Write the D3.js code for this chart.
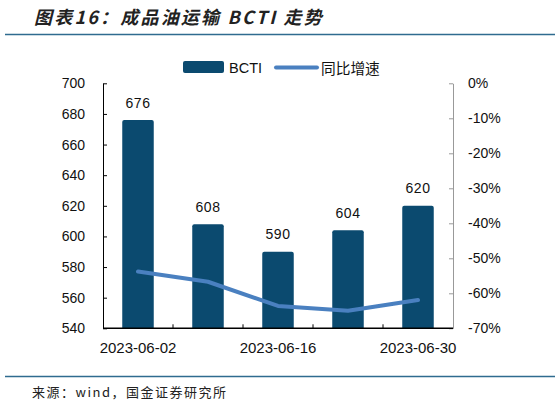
<!DOCTYPE html>
<html lang="zh">
<head>
<meta charset="UTF-8">
<title>成品油运输BCTI走势</title>
<script src="https://cdnjs.cloudflare.com/ajax/libs/d3/7.8.4/d3.min.js"></script>
<style>
  body { margin: 0; background: #fff; overflow: hidden; }
  svg { display: block; font-family: Arial, "Liberation Sans", sans-serif; }
</style>
</head>
<body>
<svg width="559" height="406"></svg>
<script>
const dates = ["2023-06-02", "2023-06-09", "2023-06-16", "2023-06-23", "2023-06-30"];
const bcti = [676, 608, 590, 604, 620];
const yoy = [-0.538, -0.567, -0.636, -0.650, -0.619];
const leftTicks = [540, 560, 580, 600, 620, 640, 660, 680, 700];
const rightTicks = [0, -0.1, -0.2, -0.3, -0.4, -0.5, -0.6, -0.7];
const shownDates = ["2023-06-02", "2023-06-16", "2023-06-30"];

const svg = d3.select("svg");
const plot = { left: 103, right: 453, top: 83.3, bottom: 328.3 };

const x = d3.scaleBand().domain(dates).range([plot.left, plot.right]).paddingInner(0.55).paddingOuter(0.275);
const y = d3.scaleLinear().domain([540, 700]).range([plot.bottom, plot.top]);
const y2 = d3.scaleLinear().domain([-0.7, 0]).range([plot.bottom, plot.top]);

// title
svg.append("text")
  .attr("x", 34).attr("y", 24)
  .attr("font-family", "'Noto Sans CJK SC', sans-serif")
  .attr("font-size", 18).attr("font-weight", "bold").attr("font-style", "italic")
  .attr("letter-spacing", 2.2)
  .attr("fill", "#222")
  .text("图表16：成品油运输 BCTI 走势");
svg.append("line").attr("x1", 5).attr("x2", 555).attr("y1", 34.5).attr("y2", 34.5)
  .attr("stroke", "#2f6b8f").attr("stroke-width", 1.5);

// bottom rule + source
svg.append("line").attr("x1", 5).attr("x2", 555).attr("y1", 376.5).attr("y2", 376.5)
  .attr("stroke", "#2f6b8f").attr("stroke-width", 1.5);
svg.append("text")
  .attr("x", 32).attr("y", 397)
  .attr("font-family", "'Noto Sans CJK SC', sans-serif")
  .attr("font-size", 13).attr("letter-spacing", 1.5).attr("fill", "#222")
  .text("来源：wind，国金证券研究所");

// legend
const lg = svg.append("g");
lg.append("rect").attr("x", 183).attr("y", 61).attr("width", 41).attr("height", 12).attr("rx", 2)
  .attr("fill", "#0b4a6f");
lg.append("text").attr("x", 229).attr("y", 73).attr("font-size", 14.5).attr("fill", "#111").text("BCTI");
lg.append("line").attr("x1", 276).attr("x2", 317).attr("y1", 67.5).attr("y2", 67.5)
  .attr("stroke", "#4a80c0").attr("stroke-width", 4).attr("stroke-linecap", "round");
lg.append("text").attr("x", 321).attr("y", 73.5).attr("font-size", 14.7).attr("fill", "#111")
  .attr("font-family", "'Noto Sans CJK SC', sans-serif").text("同比增速");

// bars
const barPath = d => {
  const x0 = x(d.date), w = x.bandwidth(), y0 = y(d.v), r = 2;
  return `M${x0},${plot.bottom}V${y0 + r}Q${x0},${y0} ${x0 + r},${y0}H${x0 + w - r}Q${x0 + w},${y0} ${x0 + w},${y0 + r}V${plot.bottom}Z`;
};
const rows = dates.map((d, i) => ({ date: d, v: bcti[i], p: yoy[i] }));
svg.append("g").selectAll("path").data(rows).join("path")
  .attr("d", barPath).attr("fill", "#0b4a6f");

svg.append("g").selectAll("text").data(rows).join("text")
  .attr("x", d => x(d.date) + x.bandwidth() / 2)
  .attr("y", d => y(d.v) - 12.5)
  .attr("text-anchor", "middle").attr("font-size", 14).attr("letter-spacing", 0.6).attr("fill", "#111")
  .text(d => d.v);

// line
const line = d3.line()
  .x(d => x(d.date) + x.bandwidth() / 2)
  .y(d => y2(d.p));
svg.append("path").datum(rows).attr("d", line)
  .attr("fill", "none").attr("stroke", "#4a80c0").attr("stroke-width", 4)
  .attr("stroke-linecap", "round").attr("stroke-linejoin", "round");

// left axis
const la = svg.append("g").attr("transform", `translate(${plot.left},0)`)
  .call(d3.axisLeft(y).tickValues(leftTicks).tickSizeInner(-4).tickSizeOuter(0).tickPadding(18));
la.select(".domain").attr("stroke", "#000");
la.selectAll(".tick line").attr("stroke", "#000");
la.selectAll("text").attr("font-size", 14).attr("fill", "#111").attr("font-family", "Arial, 'Liberation Sans', sans-serif");

// right axis
const ra = svg.append("g").attr("transform", `translate(${plot.right},0)`)
  .call(d3.axisRight(y2).tickValues(rightTicks).tickFormat(d3.format(".0%")).tickSizeInner(-4).tickSizeOuter(0).tickPadding(15));
ra.select(".domain").attr("stroke", "#999");
ra.selectAll(".tick line").attr("stroke", "#999");
ra.selectAll("text").attr("font-size", 14).attr("fill", "#111").attr("font-family", "Arial, 'Liberation Sans', sans-serif")
  .text(d => d3.format(".0%")(d).replace("−", "-"));

// bottom axis
const boundaries = dates.slice(1).map(d => x(d) - x.step() * x.paddingInner() / 2);
const xa = svg.append("g").attr("transform", `translate(0,${plot.bottom})`);
xa.append("line").attr("x1", plot.left).attr("x2", plot.right).attr("stroke", "#000").attr("stroke-width", 1.5);
xa.selectAll(".tk").data(boundaries).join("line").attr("class", "tk")
  .attr("x1", d => d).attr("x2", d => d).attr("y1", 0).attr("y2", -4).attr("stroke", "#000");
xa.selectAll(".lbl").data(shownDates).join("text").attr("class", "lbl")
  .attr("x", d => x(d) + x.bandwidth() / 2).attr("y", 25)
  .attr("text-anchor", "middle").attr("font-size", 15).attr("fill", "#111")
  .text(d => d);
</script>
</body>
</html>
